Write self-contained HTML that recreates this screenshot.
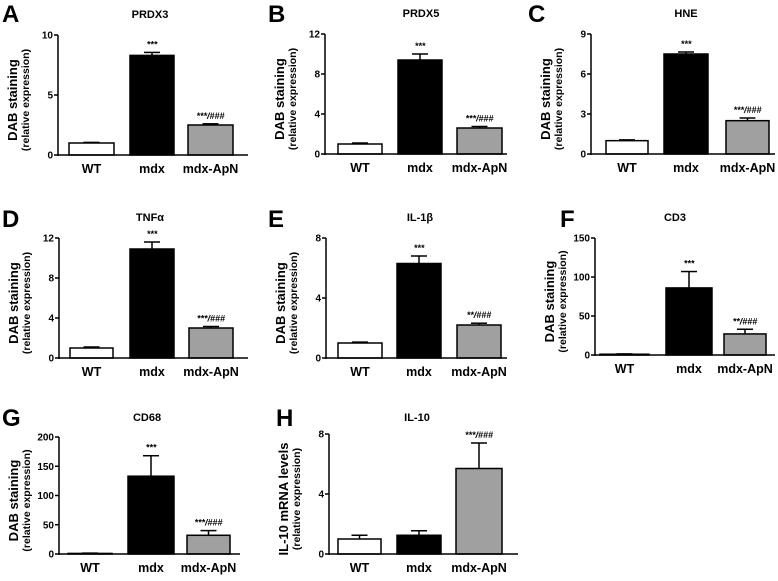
<!DOCTYPE html>
<html><head><meta charset="utf-8"><style>
body{margin:0;background:#fff;width:778px;height:576px;overflow:hidden}
svg{font-family:"Liberation Sans",Arial,sans-serif;font-weight:bold}
</style></head><body>
<svg id="fig" width="778" height="576" viewBox="0 0 778 576"></svg>
<script>
const categories = ["WT","mdx","mdx-ApN"];
const panelTitles = ["PRDX3","PRDX5","HNE","TNFα","IL-1β","CD3","CD68","IL-10"];
const panelLetters = ["A","B","C","D","E","F","G","H"];
const meansA=[1,8.3,2.5], errA=[0.05,0.25,0.1];
const meansB=[1,9.4,2.6], errB=[0.1,0.6,0.15];
const meansC=[1,7.5,2.5], errC=[0.06,0.15,0.2];
const meansD=[1,10.9,3.0], errD=[0.1,0.7,0.15];
const meansE=[1,6.3,2.2], errE=[0.06,0.5,0.12];
const meansF=[1,86,27], errF=[0.4,21,6];
const meansG=[1,133,32], errG=[0.5,35,8];
const meansH=[1,1.25,5.7], errH=[0.25,0.3,1.7];
const ticksA=[0,5,10], ticksB=[0,4,8,12], ticksC=[0,3,6,9], ticksD=[0,4,8,12];
const ticksE=[0,4,8], ticksF=[0,50,100,150], ticksG=[0,50,100,150,200], ticksH=[0,4,8];
const sigA=["","***","***/###"], sigB=["","***","***/###"], sigC=["","***","***/###"], sigD=["","***","***/###"];
const sigE=["","***","**/###"], sigF=["","***","**/###"], sigG=["","***","***/###"], sigH=["","","***/###"];

const layouts=[
 {ax:58,top:35,bot:155,xe:248,bars:[[69,114],[130,174],[188,233]],tx:150,ty:18,lx:2,ly:22},
 {ax:325,top:34,bot:154,xe:507,bars:[[338,382],[398,442],[457,502]],tx:421,ty:17,lx:268,ly:22},
 {ax:591,top:34,bot:154,xe:775,bars:[[606,648],[664,708],[726,769]],tx:686,ty:17,lx:528,ly:22},
 {ax:59,top:238,bot:358,xe:248,bars:[[70,113],[130,174],[189,233]],tx:150,ty:221,lx:2,ly:227},
 {ax:326,top:238,bot:358,xe:507,bars:[[338,382],[397,441],[457,501]],tx:420,ty:221,lx:268,ly:227},
 {ax:595,top:238,bot:355,xe:775,bars:[[600,649],[666,712],[724,766]],tx:675,ty:221,lx:560,ly:227},
 {ax:59,top:437,bot:554,xe:240,bars:[[68,112],[128,174],[187,230]],tx:147,ty:421,lx:2,ly:426},
 {ax:329,top:434,bot:554,xe:518,bars:[[338,381],[397,441],[456,502]],tx:417,ty:421,lx:276,ly:426}
];
const allMeans=[meansA,meansB,meansC,meansD,meansE,meansF,meansG,meansH];
const allErr=[errA,errB,errC,errD,errE,errF,errG,errH];
const allTicks=[ticksA,ticksB,ticksC,ticksD,ticksE,ticksF,ticksG,ticksH];
const allSig=[sigA,sigB,sigC,sigD,sigE,sigF,sigG,sigH];
const fills=["#ffffff","#000000","#a0a0a0"];
const NS="http://www.w3.org/2000/svg";
const svg=document.getElementById('fig');
function mk(tag,attrs,parent){const e=document.createElementNS(NS,tag);for(const k in attrs)e.setAttribute(k,attrs[k]);(parent||svg).appendChild(e);return e;}

layouts.forEach((L,p)=>{
  const g=mk('g',{});
  
  
  const ticks=allTicks[p], ymax=ticks[ticks.length-1];
  const y=v=>L.bot-(v/ymax)*(L.bot-L.top);
  let t=mk('text',{x:L.lx,y:L.ly,'font-size':24},g);t.textContent=panelLetters[p];
  
  
  t=mk('text',{x:L.tx,y:L.ty,'font-size':11,'text-anchor':'middle'},g);t.textContent=panelTitles[p];
  
  
  const cy=(L.top+L.bot)/2+5;
  const line1=p===7?"IL-10 mRNA levels":"DAB staining";
  t=mk('text',{x:0,y:0,'font-size':13,'text-anchor':'middle',transform:`translate(${L.ax-41},${cy}) rotate(-90)`},g);t.textContent=line1;
  
  
  t=mk('text',{x:0,y:0,'font-size':10.5,'text-anchor':'middle',transform:`translate(${L.ax-29},${cy}) rotate(-90)`},g);t.textContent="(relative expression)";
  
  
  categories.forEach((c,i)=>{
    const m=allMeans[p][i], e=allErr[p][i];
    const [x0,x1]=L.bars[i], xc=(x0+x1)/2;
    const yt=y(m+e);
    const el=mk('line',{x1:xc,x2:xc,y1:y(m),y2:yt,stroke:'#000','stroke-width':1.5},g);
    
    
    const cap=mk('line',{x1:xc-8,x2:xc+8,y1:yt,y2:yt,stroke:'#000','stroke-width':1.5},g);
    
    
    const r=mk('rect',{x:x0,y:y(m),width:x1-x0,height:L.bot-y(m),fill:fills[i],stroke:'#000','stroke-width':1.5},g);
    
    
    if(allSig[p][i]){
      const s=mk('text',{x:xc,y:yt-5,'font-size':9,'font-style':'italic','text-anchor':'middle'},g);
      s.textContent=allSig[p][i];
      
      
    }
    const xl=mk('text',{x:xc,y:L.bot+18,'font-size':12.5,'text-anchor':'middle'},g);
    xl.textContent=c;
    
    
  });
  const ya=mk('line',{x1:L.ax,x2:L.ax,y1:L.top,y2:L.bot+1,stroke:'#000','stroke-width':1.5},g);
  
  
  const xa=mk('line',{x1:L.ax,x2:L.xe,y1:L.bot,y2:L.bot,stroke:'#000','stroke-width':1.5},g);
  
  
  ticks.forEach(v=>{
    const tk=mk('line',{x1:L.ax-4,x2:L.ax,y1:y(v),y2:y(v),stroke:'#000','stroke-width':1.5},g);
    
    
    const tl=mk('text',{x:L.ax-5,y:y(v)+3.5,'font-size':10,'text-anchor':'end'},g);
    tl.textContent=v;
    
    
  });
});
</script>
</body></html>
